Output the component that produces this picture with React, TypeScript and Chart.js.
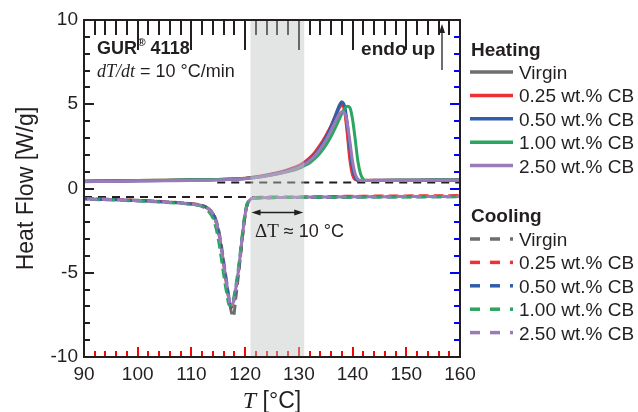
import React, { useEffect, useRef } from "react";
import { Chart, registerables } from "chart.js";

Chart.register(...registerables);

// ---- Data -----------------------------------------------------------------
const seriesLabels = ["Virgin", "0.25 wt.% CB", "0.50 wt.% CB", "1.00 wt.% CB", "2.50 wt.% CB"];
const seriesColors = ["#6d6e71", "#ed3237", "#2f5fab", "#2ba55f", "#9a7bb9"];

const heatingTemps = [90, 95, 100, 105, 110, 115, 120, 123, 126, 128, 130, 131, 132, 133, 134, 135, 136, 137, 137.5, 138, 138.5, 139, 139.5, 140, 140.5, 141, 141.5, 142, 142.5, 143, 145, 150, 155, 160];
const heatingVirgin = [0.42, 0.44, 0.46, 0.48, 0.5, 0.53, 0.6, 0.72, 0.9, 1.07, 1.3, 1.48, 1.74, 2.08, 2.52, 3.07, 3.72, 4.52, 4.92, 5.15, 4.75, 3.6, 2.1, 1.0, 0.58, 0.48, 0.47, 0.47, 0.48, 0.48, 0.48, 0.49, 0.49, 0.5];
const heating025 = [0.43, 0.45, 0.47, 0.49, 0.51, 0.54, 0.61, 0.74, 0.93, 1.12, 1.36, 1.56, 1.82, 2.16, 2.6, 3.12, 3.72, 4.42, 4.76, 4.96, 4.62, 3.3, 1.7, 0.8, 0.53, 0.49, 0.48, 0.48, 0.48, 0.49, 0.49, 0.49, 0.5, 0.5];
const heating050 = [0.42, 0.44, 0.46, 0.48, 0.5, 0.53, 0.6, 0.72, 0.9, 1.06, 1.28, 1.45, 1.7, 2.02, 2.45, 3.0, 3.65, 4.45, 4.86, 5.1, 4.9, 3.9, 2.4, 1.2, 0.65, 0.5, 0.48, 0.48, 0.48, 0.48, 0.49, 0.49, 0.5, 0.5];
const heating100 = [0.45, 0.46, 0.47, 0.49, 0.51, 0.54, 0.6, 0.7, 0.86, 1.0, 1.2, 1.35, 1.52, 1.78, 2.12, 2.55, 3.1, 3.75, 4.1, 4.45, 4.72, 4.88, 4.8, 4.1, 2.9, 1.6, 0.85, 0.55, 0.49, 0.48, 0.48, 0.49, 0.5, 0.5];
const heating250 = [0.4, 0.42, 0.44, 0.46, 0.48, 0.51, 0.58, 0.7, 0.87, 1.03, 1.25, 1.42, 1.65, 1.95, 2.35, 2.85, 3.45, 4.1, 4.4, 4.55, 4.5, 3.9, 2.8, 1.6, 0.85, 0.55, 0.48, 0.47, 0.47, 0.47, 0.48, 0.48, 0.49, 0.49];

const coolingTemps = [90, 95, 100, 105, 108, 110, 111, 112, 113, 114, 114.5, 115, 115.5, 116, 116.5, 117, 117.4, 117.8, 118.3, 118.8, 119.3, 119.8, 120.3, 120.8, 121.5, 123, 130, 140, 150, 160];
const coolingVirgin = [-0.6, -0.64, -0.7, -0.78, -0.84, -0.9, -0.94, -1.0, -1.15, -1.45, -1.8, -2.35, -3.2, -4.3, -5.4, -6.5, -7.3, -7.6, -6.4, -5.0, -3.5, -2.05, -1.05, -0.7, -0.58, -0.55, -0.53, -0.5, -0.48, -0.46];
const cooling025 = [-0.6, -0.65, -0.71, -0.79, -0.85, -0.91, -0.95, -1.01, -1.17, -1.5, -1.9, -2.5, -3.4, -4.5, -5.6, -6.6, -7.05, -6.8, -5.9, -4.8, -3.4, -2.0, -1.05, -0.7, -0.56, -0.52, -0.5, -0.46, -0.44, -0.42];
const cooling050 = [-0.62, -0.66, -0.72, -0.8, -0.86, -0.92, -0.96, -1.02, -1.18, -1.5, -1.9, -2.5, -3.4, -4.5, -5.6, -6.6, -7.05, -6.8, -5.9, -4.8, -3.4, -2.0, -1.05, -0.7, -0.58, -0.55, -0.53, -0.5, -0.49, -0.48];
const cooling100 = [-0.64, -0.68, -0.74, -0.82, -0.88, -0.94, -0.99, -1.08, -1.3, -1.75, -2.25, -3.0, -4.0, -5.1, -6.1, -6.9, -6.95, -6.6, -5.7, -4.6, -3.2, -1.85, -0.98, -0.68, -0.58, -0.55, -0.53, -0.51, -0.5, -0.49];
const cooling250 = [-0.62, -0.66, -0.72, -0.8, -0.86, -0.92, -0.96, -1.02, -1.18, -1.5, -1.9, -2.5, -3.4, -4.5, -5.6, -6.6, -7.0, -6.75, -5.85, -4.75, -3.35, -1.98, -1.04, -0.7, -0.58, -0.55, -0.52, -0.49, -0.48, -0.47];

const heatingSeries = [heatingVirgin, heating025, heating050, heating100, heating250];
const coolingSeries = [coolingVirgin, cooling025, cooling050, cooling100, cooling250];

const heatingBaseline = { from: 114.8, to: 160, value: 0.35 };
const coolingBaseline = { from: 90, to: 160, value: -0.5 };
const supercoolWindow = [121, 131];

const xRange = [90, 160];
const yRange = [-10, 10];
const xMajorStep = 10;
const xMinorStep = 2;
const yMajorStep = 5;
const yMinorStep = 1;

const INK = "#231f20";
const SANS = "'Liberation Sans', Arial, sans-serif";
const SERIF = "'Liberation Serif', 'Times New Roman', serif";

const toPoints = (xs: number[], ys: number[]) => xs.map((x, i) => ({ x, y: ys[i] }));

function arrowHead(ctx: CanvasRenderingContext2D, tipX: number, tipY: number, dx: number, dy: number) {
  const len = 9;
  const half = 3;
  const bx = tipX - dx * len;
  const by = tipY - dy * len;
  ctx.beginPath();
  ctx.moveTo(tipX, tipY);
  ctx.lineTo(bx - dy * half, by + dx * half);
  ctx.lineTo(bx + dy * half, by - dx * half);
  ctx.closePath();
  ctx.fill();
}

// tick marks: each side uses a different colour / length so the sides can be told apart
function drawInwardTicks(chart: any) {
  const ctx: CanvasRenderingContext2D = chart.ctx;
  const a = chart.chartArea;
  const xs = chart.scales.x;
  const ys = chart.scales.y;
  ctx.save();
  const nx = Math.round((xRange[1] - xRange[0]) / xMinorStep);
  for (let k = 0; k <= nx; k++) {
    const px = Math.round(xs.getPixelForValue(xRange[0] + k * xMinorStep));
    const major = k % (xMajorStep / xMinorStep) === 0;
    ctx.fillStyle = "red";
    const lb = major ? 10 : 6;
    ctx.fillRect(px - 1, a.bottom - lb, 2, lb);
    ctx.fillStyle = INK;
    const lt = major ? 30 : 15;
    ctx.fillRect(px - 1, a.top, 2, lt);
  }
  const ny = Math.round((yRange[1] - yRange[0]) / yMinorStep);
  for (let k = 0; k <= ny; k++) {
    const py = Math.round(ys.getPixelForValue(yRange[0] + k * yMinorStep));
    const major = k % (yMajorStep / yMinorStep) === 0;
    ctx.fillStyle = INK;
    const ll = major ? 10 : 6;
    ctx.fillRect(a.left, py - 1, ll, 2);
    ctx.fillStyle = "blue";
    const lr = major ? 10 : 6;
    ctx.fillRect(a.right - lr, py - 1, lr, 2);
  }
  ctx.restore();
}

function drawDecor(chart: any) {
  const { ctx, chartArea: a, scales } = chart;
  const xs = scales.x;

  ctx.save();
  ctx.setLineDash([]);

  const b0 = xs.getPixelForValue(supercoolWindow[0]);
  const b1 = xs.getPixelForValue(supercoolWindow[1]);
  ctx.fillStyle = "rgba(192,195,195,0.45)";
  ctx.fillRect(b0, a.top, b1 - b0, a.bottom - a.top);

  ctx.strokeStyle = INK;
  ctx.lineWidth = 2;
  ctx.strokeRect(a.left, a.top, a.right - a.left, a.bottom - a.top);

  ctx.fillStyle = INK;
  ctx.font = `23px ${SANS}`;
  ctx.textBaseline = "alphabetic";
  ctx.save();
  ctx.translate(33, (a.top + a.bottom) / 2);
  ctx.rotate(-Math.PI / 2);
  ctx.textAlign = "center";
  ctx.fillText("Heat Flow [W/g]", 0, 0);
  ctx.restore();

  ctx.textAlign = "left";
  ctx.font = `italic 24px ${SERIF}`;
  const tW = ctx.measureText("T").width;
  ctx.font = `23px ${SANS}`;
  const restW = ctx.measureText(" [°C]").width;
  const tx = (a.left + a.right) / 2 - (tW + restW) / 2;
  ctx.font = `italic 24px ${SERIF}`;
  ctx.fillText("T", tx, 408);
  ctx.font = `23px ${SANS}`;
  ctx.fillText(" [°C]", tx + tW, 408);

  ctx.font = `bold 18px ${SANS}`;
  let gx = 97;
  ctx.fillText("GUR", gx, 54);
  gx += ctx.measureText("GUR").width + 0.5;
  ctx.font = `bold 11px ${SANS}`;
  ctx.fillText("®", gx, 46);
  gx += ctx.measureText("®").width;
  ctx.font = `bold 18px ${SANS}`;
  ctx.fillText(" 4118", gx, 54);

  let rx = 97;
  ctx.font = `italic 18px ${SERIF}`;
  ctx.fillText("dT/dt", rx, 77);
  rx += ctx.measureText("dT/dt").width;
  ctx.font = `18px ${SANS}`;
  ctx.fillText(" = 10 °C/min", rx, 77);

  ctx.font = `bold 19px ${SANS}`;
  ctx.textAlign = "right";
  ctx.fillText("endo up", 435, 55);
  ctx.textAlign = "left";
  ctx.lineWidth = 1.3;
  ctx.beginPath();
  ctx.moveTo(442, 70);
  ctx.lineTo(442, 32);
  ctx.stroke();
  arrowHead(ctx, 442, 24, 0, -1);

  const ay = 212.5;
  ctx.beginPath();
  ctx.moveTo(b0 + 6, ay);
  ctx.lineTo(b1 - 6, ay);
  ctx.stroke();
  arrowHead(ctx, b0 + 1, ay, -1, 0);
  arrowHead(ctx, b1 - 1, ay, 1, 0);
  let dx = 255;
  ctx.font = `19px ${SERIF}`;
  ctx.fillText("ΔT", dx, 237);
  dx += ctx.measureText("ΔT").width;
  ctx.font = `18px ${SANS}`;
  ctx.fillText(" ≈ 10 °C", dx, 237);

  const lx0 = 470;
  const lx1 = 513;
  const textX = 519;
  const rowGap = 23.4;
  const drawGroup = (title: string, titleY: number, firstRowY: number, dashed: boolean) => {
    ctx.font = `bold 19px ${SANS}`;
    ctx.fillStyle = INK;
    ctx.fillText(title, lx0 + 1, titleY + 7);
    seriesLabels.forEach((label, i) => {
      const cy = firstRowY + i * rowGap;
      ctx.strokeStyle = seriesColors[i];
      ctx.lineWidth = 3.5;
      ctx.setLineDash(dashed ? [10, 10] : []);
      ctx.beginPath();
      ctx.moveTo(lx0, cy);
      ctx.lineTo(lx1, cy);
      ctx.stroke();
      ctx.setLineDash([]);
      ctx.font = `19px ${SANS}`;
      ctx.fillStyle = INK;
      ctx.fillText(label, textX, cy + 7);
    });
  };
  drawGroup("Heating", 49, 72, false);
  drawGroup("Cooling", 215, 239, true);

  ctx.restore();
}

const decorPlugin = {
  id: "decor",
  afterDraw(chart: any) {
    drawInwardTicks(chart);
    drawDecor(chart);
  },
};

export default function App() {
  const canvasRef = useRef<HTMLCanvasElement | null>(null);

  useEffect(() => {
    if (!canvasRef.current) return;

    const datasets: any[] = [
      {
        label: "heating baseline",
        data: [
          { x: heatingBaseline.from, y: heatingBaseline.value },
          { x: heatingBaseline.to, y: heatingBaseline.value },
        ],
        borderColor: INK,
        borderWidth: 2,
        borderDash: [8, 6],
        order: 100,
      },
      {
        label: "cooling baseline",
        data: [
          { x: coolingBaseline.from, y: coolingBaseline.value },
          { x: coolingBaseline.to, y: coolingBaseline.value },
        ],
        borderColor: INK,
        borderWidth: 2,
        borderDash: [8, 6],
        order: 100,
      },
    ];

    coolingSeries.forEach((vals, i) => {
      datasets.push({
        label: `Cooling ${seriesLabels[i]}`,
        data: toPoints(coolingTemps, vals),
        borderColor: seriesColors[i],
        borderWidth: 3,
        borderDash: [10, 5],
        borderDashOffset: i * 3,
        order: 60 - i,
      });
    });

    heatingSeries.forEach((vals, i) => {
      datasets.push({
        label: `Heating ${seriesLabels[i]}`,
        data: toPoints(heatingTemps, vals),
        borderColor: seriesColors[i],
        borderWidth: 3,
        order: 40 - i,
      });
    });

    const chart = new Chart(canvasRef.current, {
      type: "line",
      data: { datasets },
      options: {
        responsive: false,
        animation: false,
        events: [],
        layout: { padding: { top: 20, right: 178, left: 0, bottom: 0 } },
        elements: {
          point: { radius: 0 },
          line: { cubicInterpolationMode: "monotone", fill: false },
        },
        plugins: {
          legend: { display: false },
          tooltip: { enabled: false },
          title: { display: false },
        },
        scales: {
          x: {
            type: "linear",
            min: xRange[0],
            max: xRange[1],
            grid: { display: false, drawTicks: false },
            border: { display: false },
            ticks: {
              stepSize: xMajorStep,
              padding: 6,
              color: INK,
              font: { family: SANS, size: 19 },
              maxRotation: 0,
            },
            afterFit: (s: any) => {
              s.height = 55;
            },
          },
          y: {
            type: "linear",
            min: yRange[0],
            max: yRange[1],
            grid: { display: false, drawTicks: false },
            border: { display: false },
            ticks: {
              stepSize: yMajorStep,
              padding: 6,
              color: INK,
              font: { family: SANS, size: 19 },
            },
            afterFit: (s: any) => {
              s.width = 84;
            },
          },
        },
      },
      plugins: [decorPlugin],
    });

    return () => chart.destroy();
  }, []);

  return (
    <div style={{ position: "absolute", left: 0, top: 0, width: 638, height: 412, background: "#fff" }}>
      <canvas ref={canvasRef} width={638} height={412} style={{ display: "block" }} />
    </div>
  );
}
